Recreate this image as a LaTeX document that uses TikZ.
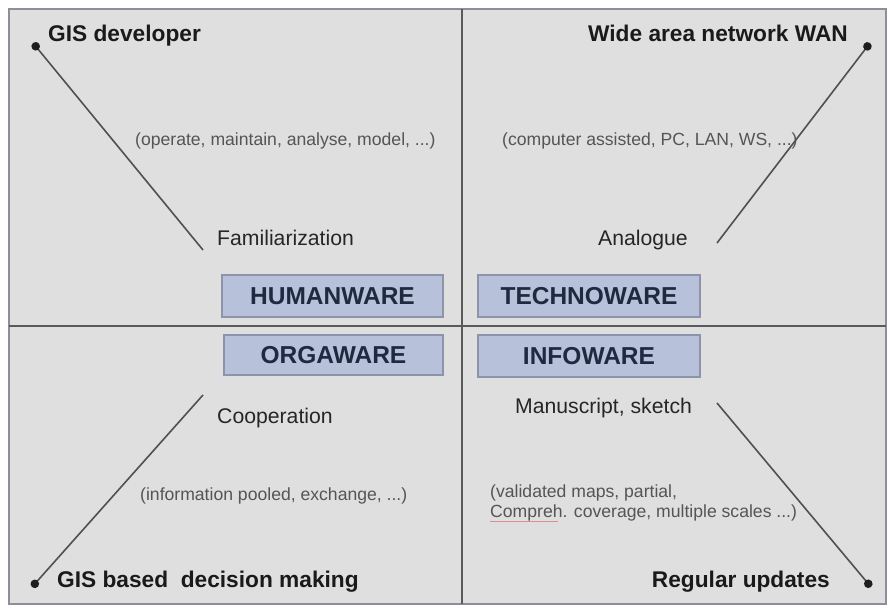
\documentclass[tikz,border=0pt]{standalone}
\usepackage{fontspec}
\setmainfont{Liberation Sans}
\usetikzlibrary{arrows.meta}
\definecolor{panelbg}{HTML}{DFDFDF}
\definecolor{framecol}{HTML}{8E8E9A}
\definecolor{divcol}{HTML}{5A5A5A}
\definecolor{boxfill}{HTML}{B7C1D9}
\definecolor{boxdraw}{HTML}{8C93AA}
\definecolor{boxtext}{HTML}{1F2A40}
\definecolor{darktext}{HTML}{1A1A1A}
\definecolor{midtext}{HTML}{262626}
\definecolor{smalltext}{HTML}{555555}
\definecolor{linecol}{HTML}{505050}
\definecolor{dotcol}{HTML}{1E1E1E}
\definecolor{spellred}{HTML}{D89090}
\begin{document}
\begin{tikzpicture}[x=1pt,y=-1pt,
  bigtxt/.style={font=\fontsize{22.7}{26}\selectfont\bfseries, text=darktext, inner sep=0pt},
  midtxt/.style={font=\fontsize{21.2}{24}\selectfont, text=midtext, inner sep=0pt},
  smalltxt/.style={font=\fontsize{17.6}{20}\selectfont, text=smalltext, inner sep=0pt},
  warebox/.style={fill=boxfill, draw=boxdraw, line width=2pt, text=boxtext,
    font=\fontsize{24.5}{28}\selectfont\bfseries, inner sep=0pt},
  conn/.style={draw=linecol, line width=1.6pt, -{Circle[length=8.5pt, color=dotcol]}},
]
\useasboundingbox (0,0) rectangle (890,607);
\fill[white] (0,0) rectangle (890,607);
% frame and panels
\draw[fill=panelbg, draw=framecol, line width=2.5pt] (9,9) rectangle (886,604);
\draw[divcol, line width=2pt] (462,9) -- (462,604);
\draw[divcol, line width=2pt] (9,326) -- (886,326);

% central boxes
\node[warebox, minimum width=221pt, minimum height=42pt] (human) at (332.5,296) {HUMANWARE};
\node[warebox, minimum width=222pt, minimum height=42pt] (techno) at (589,296) {TECHNOWARE};
\node[warebox, minimum width=219pt, minimum height=40pt] (orga) at (333.5,355) {ORGAWARE};
\node[warebox, minimum width=222pt, minimum height=42pt] (info) at (589,356) {INFOWARE};

% corner labels
\node[bigtxt, anchor=base west] (gisdev) at (48,42) {GIS developer};
\node[bigtxt, anchor=base east] (wan) at (848,42) {Wide area network WAN};
\node[bigtxt, anchor=base west] (gisdm) at (57,587) {GIS based\ \ decision making};
\node[bigtxt, anchor=base east] (regup) at (830,587) {Regular updates};

% starting labels
\node[midtxt, anchor=base west] (famil) at (217,245) {Familiarization};
\node[midtxt, anchor=base west] (analog) at (598,245) {Analogue};
\node[midtxt, anchor=base west] (coop) at (217,423) {Cooperation};
\node[midtxt, anchor=base west] (manu) at (515,413) {Manuscript, sketch};

% small descriptions
\node[smalltxt, anchor=base west] (opdesc) at (135,145) {(operate, maintain, analyse, model, ...)};
\node[smalltxt, anchor=base west] (compdesc) at (502,145) {(computer assisted, PC, LAN, WS, ...)};
\node[smalltxt, anchor=base west] (infodesc) at (140,500) {(information pooled, exchange, ...)};
\node[smalltxt, anchor=base west] (valdesc) at (490,497) {(validated maps, partial,};
\node[smalltxt, anchor=base west] (compdesc2) at (490,517) {Compreh. coverage, multiple scales ...)};
\draw[spellred, line width=1pt] (compdesc2.base west) ++(0,4) -- ++(68,0);

% connectors
\coordinate (tlS) at (203,250);
\coordinate (tlE) at (33,43);
\coordinate (trS) at (717,243);
\coordinate (trE) at (870,43);
\coordinate (blS) at (203,395);
\coordinate (blE) at (32,587);
\coordinate (brS) at (717,403);
\coordinate (brE) at (871,587);
\draw[conn] (tlS) -- (tlE);
\draw[conn] (trS) -- (trE);
\draw[conn] (blS) -- (blE);
\draw[conn] (brS) -- (brE);
\end{tikzpicture}
\end{document}
